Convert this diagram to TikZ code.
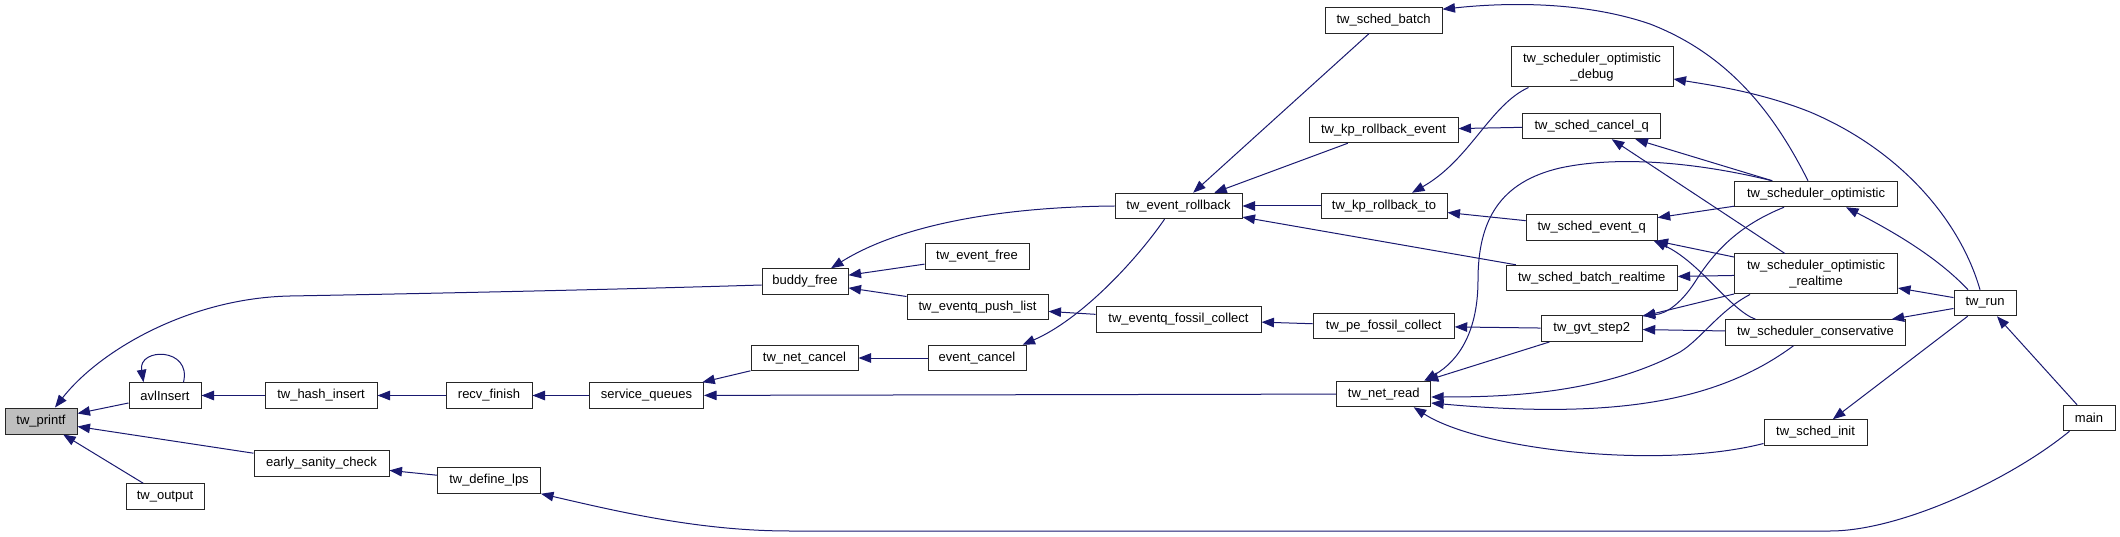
\documentclass[tikz,border=0pt]{standalone}
\usepackage{fontspec}
\setmainfont{Liberation Sans}
\usetikzlibrary{arrows.meta,calc}
\definecolor{edgeblue}{HTML}{191970}
\definecolor{nodegray}{HTML}{BFBFBF}
\begin{document}
\begin{tikzpicture}[x=1pt,y=-1pt,
  fn/.style={draw=black!85, line width=1pt, fill=white, inner sep=0pt,
    minimum height=25.5pt, font=\fontsize{13}{15.3}\selectfont, align=center},
  call/.style={draw=edgeblue, line width=1pt, -{Triangle[length=12.5pt,width=9.5pt]}}]
\useasboundingbox (0,0) rectangle (2120,537);
% nodes
\node[fn, fill=nodegray, minimum width=72pt, minimum height=26pt] (printf) at (41,421) {tw\_printf};
\node[fn, minimum width=72pt] (avl) at (165,395.5) {avlInsert};
\node[fn, minimum width=112pt] (hash) at (321,395.5) {tw\_hash\_insert};
\node[fn, minimum width=86pt] (recv) at (489,395.5) {recv\_finish};
\node[fn, minimum width=114pt] (sq) at (646.5,395.5) {service\_queues};
\node[fn, minimum width=135pt] (esc) at (321.5,463.5) {early\_sanity\_check};
\node[fn, minimum width=103pt] (lps) at (489,480.5) {tw\_define\_lps};
\node[fn, minimum width=78pt] (out) at (165,496.5) {tw\_output};
\node[fn, minimum width=86pt] (bf) at (805,281.5) {buddy\_free};
\node[fn, minimum width=104pt] (evf) at (977,256.5) {tw\_event\_free};
\node[fn, minimum width=141pt] (epl) at (977.5,307) {tw\_eventq\_push\_list};
\node[fn, minimum width=107pt] (nc) at (804.5,358) {tw\_net\_cancel};
\node[fn, minimum width=98pt] (ec) at (977,358) {event\_cancel};
\node[fn, minimum width=127pt] (rb) at (1178.5,206) {tw\_event\_rollback};
\node[fn, minimum width=165pt] (efc) at (1178.5,319.5) {tw\_eventq\_fossil\_collect};
\node[fn, minimum width=117pt] (sb) at (1383.5,20.5) {tw\_sched\_batch};
\node[fn, minimum width=149pt] (kre) at (1383.5,130) {tw\_kp\_rollback\_event};
\node[fn, minimum width=126pt] (krt) at (1384,206) {tw\_kp\_rollback\_to};
\node[fn, minimum width=141pt] (pfc) at (1383.7,326) {tw\_pe\_fossil\_collect};
\node[fn, minimum width=94pt] (nr) at (1383.7,394) {tw\_net\_read};
\node[fn, minimum width=162pt, minimum height=40pt] (dbg) at (1592,67) {tw\_scheduler\_optimistic\\\_debug};
\node[fn, minimum width=138pt] (scq) at (1591.7,126) {tw\_sched\_cancel\_q};
\node[fn, minimum width=131pt] (seq) at (1591.7,227.5) {tw\_sched\_event\_q};
\node[fn, minimum width=171pt] (sbr) at (1591.7,278) {tw\_sched\_batch\_realtime};
\node[fn, minimum width=101pt] (gvt) at (1591.7,328.7) {tw\_gvt\_step2};
\node[fn, minimum width=163pt] (opt) at (1816,194) {tw\_scheduler\_optimistic};
\node[fn, minimum width=163pt, minimum height=40pt] (rt) at (1816,274) {tw\_scheduler\_optimistic\\\_realtime};
\node[fn, minimum width=180pt] (cons) at (1815.5,332.5) {tw\_scheduler\_conservative};
\node[fn, minimum width=103pt] (si) at (1815.5,432.5) {tw\_sched\_init};
\node[fn, minimum width=62pt] (run) at (1985,303) {tw\_run};
\node[fn, minimum width=52pt] (main) at (2089,418) {main};
% edges
\draw[call] (avl) -- (printf);
\draw[call] ($(bf.west)+(0,3.5)$) .. controls (600,290) and (400,294) .. (290,296) .. controls (190,298) and (100,350) .. ($(printf.north)+(14,0)$);
\draw[call] (esc) -- (printf);
\draw[call] (out) -- (printf);
\draw[call] ($(avl.north)+(18.5,0)$) .. controls +(8.5,-35) and +(-5.5,-35) .. ($(avl.north)+(-21.5,0)$);
\draw[call] (hash) -- (avl);
\draw[call] (recv) -- (hash);
\draw[call] (sq) -- (recv);
\draw[call] (nc) -- (sq);
\draw[call] (nr) -- (sq);
\draw[call] (lps) -- (esc);
\draw[call] ($(main.south west)+(7,0)$) .. controls (2010,480) and (1900,531) .. (1830,531) -- (790,531) .. controls (700,531) and (620,512) .. (lps.south east);
\draw[call] (rb.west) .. controls (1000,207) and (900,225) .. ($(bf.north)+(26,0)$);
\draw[call] (evf) -- (bf);
\draw[call] (epl) -- (bf);
\draw[call] (sb) -- (rb);
\draw[call] (kre) -- (rb);
\draw[call] (krt) -- (rb);
\draw[call] (sbr) -- (rb);
\draw[call] ($(rb.south)+(-14,0)$) .. controls (1135,262) and (1080,320) .. ($(ec.north east)+(-4,0)$);
\draw[call] (ec) -- (nc);
\draw[call] (efc) -- (epl);
\draw[call] (pfc) -- (efc);
\draw[call] (gvt) -- (pfc);
\draw[call] (scq) -- (kre);
\draw[call] ($(dbg.south west)+(18,0)$) .. controls (1490,105) and (1470,160) .. ($(krt.north)+(28,0)$);
\draw[call] (seq) -- (krt);
\draw[call] ($(opt.north)+(-8,0)$) .. controls (1775,115) and (1730,55) .. (1650,24) .. controls (1580,0) and (1500,3) .. ($(sb.north east)+(0,2)$);
\draw[call] ($(run.north)+(-5,0)$) .. controls (1960,220) and (1900,150) .. (1810,112) .. controls (1760,92) and (1710,85) .. ($(dbg.east)+(0,12)$);
\draw[call] (opt) -- (scq);
\draw[call] (rt) -- (scq);
\draw[call] (opt) -- (seq);
\draw[call] (rt) -- (seq);
\draw[call] ($(cons.north)+(-60,0)$) .. controls (1730,310) and (1700,262) .. ($(seq.south east)+(-4,0)$);
\draw[call] ($(opt.north west)+(38,0)$) .. controls (1700,163) and (1620,155) .. (1560,168) .. controls (1500,182) and (1478,220) .. (1478,280) .. controls (1478,330) and (1460,360) .. ($(nr.north east)+(-7,0)$);
\draw[call] ($(opt.south)+(-32,0)$) .. controls (1740,225) and (1715,250) .. (1695,282) .. controls (1680,305) and (1665,314) .. (gvt.north east);
\draw[call] (rt) -- (gvt);
\draw[call] (cons) -- (gvt);
\draw[call] (gvt) -- (nr);
\draw[call] ($(rt.south west)+(16,0)$) .. controls (1720,310) and (1700,340) .. (1680,352) .. controls (1600,395) and (1500,397) .. ($(nr.east)+(0,3)$);
\draw[call] ($(cons.south)+(-22,0)$) .. controls (1720,400) and (1620,420) .. ($(nr.east)+(0,9)$);
\draw[call] ($(si.west)+(0,11)$) .. controls (1660,470) and (1480,450) .. ($(nr.south)+(30,0)$);
\draw[call] (run) -- (rt);
\draw[call] (run) -- (cons);
\draw[call] ($(run.north)+(-17,0)$) .. controls (1940,260) and (1900,235) .. ($(opt.south)+(30,0)$);
\draw[call] (run) -- (si);
\draw[call] (main) -- (run);
\draw[call] (rt) -- (sbr);
\end{tikzpicture}
\end{document}
